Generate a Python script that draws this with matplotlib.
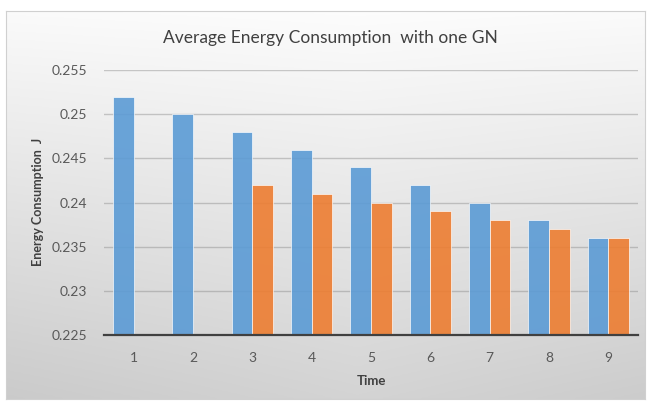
import numpy as np
import matplotlib
matplotlib.use("Agg")
import matplotlib.pyplot as plt
from matplotlib.ticker import FixedLocator, FuncFormatter

plt.rcParams["font.family"] = ["Lato", "DejaVu Sans"]

# data
times = ["1", "2", "3", "4", "5", "6", "7", "8", "9"]
series_blue = [0.252, 0.250, 0.248, 0.246, 0.244, 0.242, 0.240, 0.238, 0.236]
series_orange = [np.nan, np.nan, 0.242, 0.241, 0.240, 0.239, 0.238, 0.237, 0.236]
yticks = [0.225, 0.23, 0.235, 0.24, 0.245, 0.25, 0.255]

W, H = 647, 407
fig = plt.figure(figsize=(W / 100, H / 100), dpi=100)

# chart area with gradient background
bg = fig.add_axes([6 / W, 1 - 399 / H, 639 / W, 388 / H])
yy, xx = np.mgrid[0:1:200j, 0:1:300j]
shade = 0.99 - 0.16 * yy - 0.05 * np.abs(xx - 0.55) * (0.3 + yy)
bg.imshow(np.dstack([shade] * 3), aspect="auto", extent=[0, 1, 0, 1], origin="upper")
bg.set_xticks([])
bg.set_yticks([])
for s in bg.spines.values():
    s.set_color("#d0d0d0")
    s.set_linewidth(0.8)
bg.set_zorder(0)

ax = fig.add_axes([104 / W, 1 - 335 / H, 534 / W, 265 / H])
ax.set_zorder(1)
ax.patch.set_visible(False)

x = np.arange(len(times))
w = 0.35
ax.bar(x - w / 2, series_blue, w, color="#5B9BD5", alpha=0.9, edgecolor="white", linewidth=0.5, zorder=2)
ax.bar(x + w / 2, series_orange, w, color="#ED7D31", alpha=0.9, edgecolor="white", linewidth=0.5, zorder=2)

ax.set_ylim(0.225, 0.255)
ax.set_xlim(-0.5, len(times) - 0.5)
ax.yaxis.set_major_locator(FixedLocator(yticks))
ax.yaxis.set_major_formatter(FuncFormatter(lambda v, p: "{:g}".format(round(v, 4))))
ax.set_xticks(x)
ax.set_xticklabels(times)
ax.grid(axis="y", color="#808080", alpha=0.4, linewidth=1.0, zorder=1)
ax.tick_params(length=0, labelsize=10, colors="#595959")
ax.tick_params(axis="x", pad=12)
ax.tick_params(axis="y", pad=12)
for s in ["top", "right", "left"]:
    ax.spines[s].set_visible(False)
ax.spines["bottom"].set_color("#404040")
ax.spines["bottom"].set_linewidth(1.6)
ax.spines["bottom"].set_zorder(3)

ax.set_xlabel("Time", fontsize=9.5, fontweight="bold", color="#404040", labelpad=8)
fig.text(38 / W, 1 - 202 / H, "Energy Consumption  J", rotation=90, ha="center", va="center",
         fontsize=9, fontweight="bold", color="#404040")
fig.text(330 / W, 1 - 38 / H, "Average Energy Consumption  with one GN", ha="center", va="center",
         fontsize=12.5, color="#404040")

fig.savefig("out.png", dpi=100)
